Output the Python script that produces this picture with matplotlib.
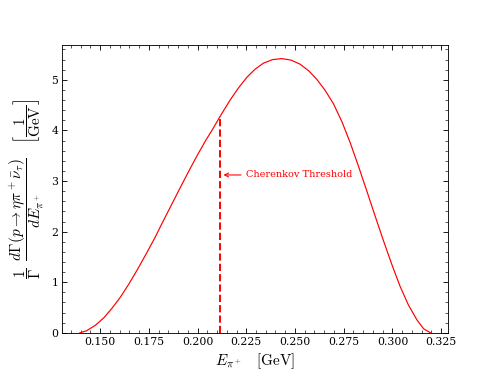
"""
Pion energy spectrum for p -> eta pi+ nubar_tau with the Cherenkov threshold marked.
"""

import matplotlib
matplotlib.use("Agg")
import matplotlib.pyplot as plt
from matplotlib.ticker import AutoMinorLocator, FormatStrFormatter


# -----------------------------------------------------------------------------
# DATA
# -----------------------------------------------------------------------------
energy = [0.1396, 0.1430, 0.1476, 0.1520, 0.1562, 0.1605, 0.1647, 0.1690,
          0.1735, 0.1780, 0.1820, 0.1865, 0.1910, 0.1953, 0.1996, 0.2040,
          0.2080, 0.2116, 0.2167, 0.2210, 0.2253, 0.2295, 0.2338, 0.2385,
          0.2432, 0.2480, 0.2526, 0.2570, 0.2612, 0.2655, 0.2697, 0.2740,
          0.2783, 0.2825, 0.2868, 0.2911, 0.2954, 0.2997, 0.3039, 0.3082,
          0.3125, 0.3160, 0.3196]
rate = [0.00, 0.04, 0.15, 0.30, 0.49, 0.71, 0.96, 1.24,
        1.55, 1.87, 2.18, 2.52, 2.86, 3.18, 3.49, 3.79,
        4.04, 4.28, 4.60, 4.84, 5.05, 5.21, 5.33, 5.40,
        5.42, 5.39, 5.31, 5.18, 5.01, 4.79, 4.53, 4.18,
        3.76, 3.30, 2.81, 2.31, 1.82, 1.35, 0.92, 0.55,
        0.26, 0.08, 0.00]

threshold_energy = 0.2116
threshold_rate = 4.28
label_y = 3.12


# -----------------------------------------------------------------------------
# PLOT
# -----------------------------------------------------------------------------
plt.rcParams["font.family"] = "serif"
plt.rcParams["font.serif"] = ["DejaVu Serif"]
plt.rcParams["mathtext.fontset"] = "cm"

fig, ax = plt.subplots(figsize=(498 / 78, 374 / 78), dpi=78)

ax.plot(energy, rate, color="red", linewidth=1.1)
ax.plot([threshold_energy, threshold_energy], [0, threshold_rate],
        color="red", linestyle="--", linewidth=1.8)
ax.annotate("Cherenkov Threshold",
            xy=(threshold_energy + 0.0017, label_y),
            xytext=(threshold_energy + 0.0135, label_y),
            color="red", fontsize=9, va="center",
            arrowprops=dict(arrowstyle="->", color="red", lw=1.0,
                            shrinkA=3, shrinkB=0))

ax.set_ylim(0, max(rate) * 1.05)
ax.xaxis.set_major_formatter(FormatStrFormatter("%.3f"))
ax.xaxis.set_minor_locator(AutoMinorLocator(5))
ax.yaxis.set_minor_locator(AutoMinorLocator(5))
ax.tick_params(which="both", direction="in", top=True, right=True,
               labelsize=10)
ax.tick_params(which="major", length=5)
ax.tick_params(which="minor", length=3)

ax.set_xlabel(r"$E_{\pi^+}\quad[\mathrm{GeV}]$", fontsize=14)
ax.set_ylabel(r"$\dfrac{1}{\Gamma}\;\;\dfrac{d\Gamma(p\rightarrow\eta\pi^+\bar{\nu}_\tau)}"
              r"{dE_{\pi^+}}\quad\left[\dfrac{1}{\mathrm{GeV}}\right]$",
              fontsize=14)

fig.savefig("out.png", dpi=78)
